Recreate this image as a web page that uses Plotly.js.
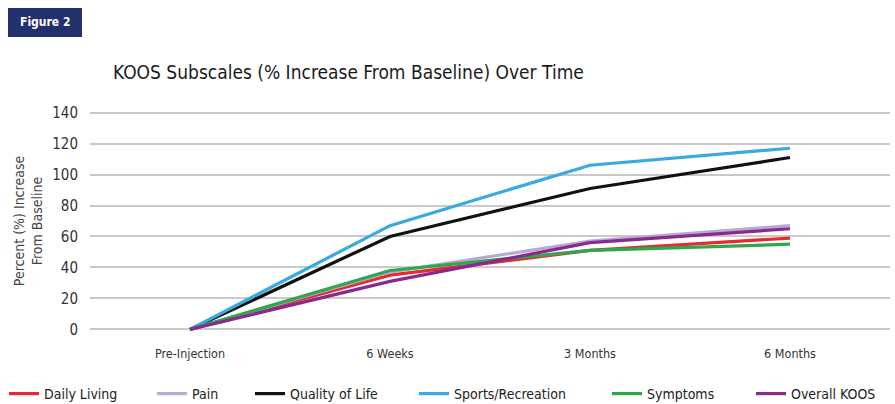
<!DOCTYPE html>
<html>
<head>
<meta charset="utf-8">
<script src="https://cdn.plot.ly/plotly-3.0.1.min.js"></script>
<style>html,body{margin:0;padding:0;background:#fff;}#chart{width:895px;height:404px;}</style>
</head>
<body>
<div id="chart"></div>
<script>
const categories = ["Pre-Injection", "6 Weeks", "3 Months", "6 Months"];
const dailyLiving = [0, 35, 51, 59];
const pain = [0, 37, 57, 67];
const qualityOfLife = [0, 60, 91, 111];
const sportsRecreation = [0, 67, 106, 117];
const symptoms = [0, 38, 51, 55];
const overallKoos = [0, 31, 56, 65];
const yTicks = [0, 20, 40, 60, 80, 100, 120, 140];
const seriesNames = ["Daily Living", "Pain", "Quality of Life", "Sports/Recreation", "Symptoms", "Overall KOOS"];

const FONT = "'DejaVu Sans Condensed', 'Liberation Sans Narrow', sans-serif";
const W = 895, H = 404;
const L = 90, R = 5, T = 108, B = 70;
const PW = W - L - R, PH = H - T - B;

const seriesValues = [dailyLiving, pain, qualityOfLife, sportsRecreation, symptoms, overallKoos];
const colors = ["#e52b2f", "#b9a9d6", "#111111", "#38a9e1", "#2ea84d", "#8a2a8c"];
const legendLineStart = [9, 157, 255, 419, 612, 756];

const traces = seriesNames.map((n, i) => ({
  type: "scatter",
  mode: "lines",
  x: categories,
  y: seriesValues[i],
  name: n,
  showlegend: true,
  legend: i === 0 ? "legend" : "legend" + (i + 1),
  line: {color: colors[i], width: 3.2}
}));

const layout = {
  width: W,
  height: H,
  paper_bgcolor: "#fff",
  plot_bgcolor: "#fff",
  margin: {l: L, r: R, t: T, b: B},
  font: {family: FONT, size: 14, color: "#333"},
  showlegend: true,
  title: {
    text: "KOOS Subscales (% Increase From Baseline) Over Time",
    font: {family: FONT, size: 19, color: "#1a1a1a"},
    x: (113 - L) / PW, xref: "paper", xanchor: "left",
    y: 1 - 72 / H, yref: "container", yanchor: "middle"
  },
  xaxis: {
    type: "category",
    range: [-0.5, 3.5],
    showgrid: false,
    zeroline: false,
    showline: false,
    ticks: "",
    ticklabelstandoff: 10,
    tickfont: {family: FONT, size: 12.5, color: "#333"},
    fixedrange: true
  },
  yaxis: {
    range: [-3, 143],
    tickvals: yTicks,
    ticktext: yTicks.map(String),
    showgrid: true,
    gridcolor: "#c9c9c9",
    gridwidth: 2,
    zeroline: false,
    showline: false,
    ticks: "",
    ticklabelstandoff: 11,
    tickfont: {family: FONT, size: 15, color: "#333"},
    title: {
      text: "Percent (%) Increase<br>From Baseline",
      font: {family: FONT, size: 14, color: "#444"},
      standoff: 6
    },
    fixedrange: true
  },
  shapes: [{
    type: "rect", xref: "paper", yref: "paper",
    x0: (8 - L) / PW, x1: (82 - L) / PW,
    y0: (H - B - 37) / PH, y1: (H - B - 8) / PH,
    fillcolor: "#22306e", line: {width: 0}
  }],
  annotations: [{
    text: "<b>Figure 2</b>",
    xref: "paper", yref: "paper",
    x: (45 - L) / PW, y: (H - B - 22.5) / PH,
    xanchor: "center", yanchor: "middle",
    showarrow: false,
    font: {family: "'DejaVu Sans Condensed', sans-serif", size: 12, color: "#ffffff"}
  }]
};

seriesNames.forEach((n, i) => {
  const key = i === 0 ? "legend" : "legend" + (i + 1);
  layout[key] = {
    orientation: "h",
    visible: true,
    x: (legendLineStart[i] - 5 - L) / PW, xref: "paper", xanchor: "left",
    y: 10 / H, yref: "container", yanchor: "middle",
    font: {family: FONT, size: 14, color: "#222"},
    borderwidth: 0,
    bgcolor: "rgba(0,0,0,0)"
  };
});

Plotly.newPlot("chart", traces, layout, {displayModeBar: false, staticPlot: true});
</script>
</body>
</html>
